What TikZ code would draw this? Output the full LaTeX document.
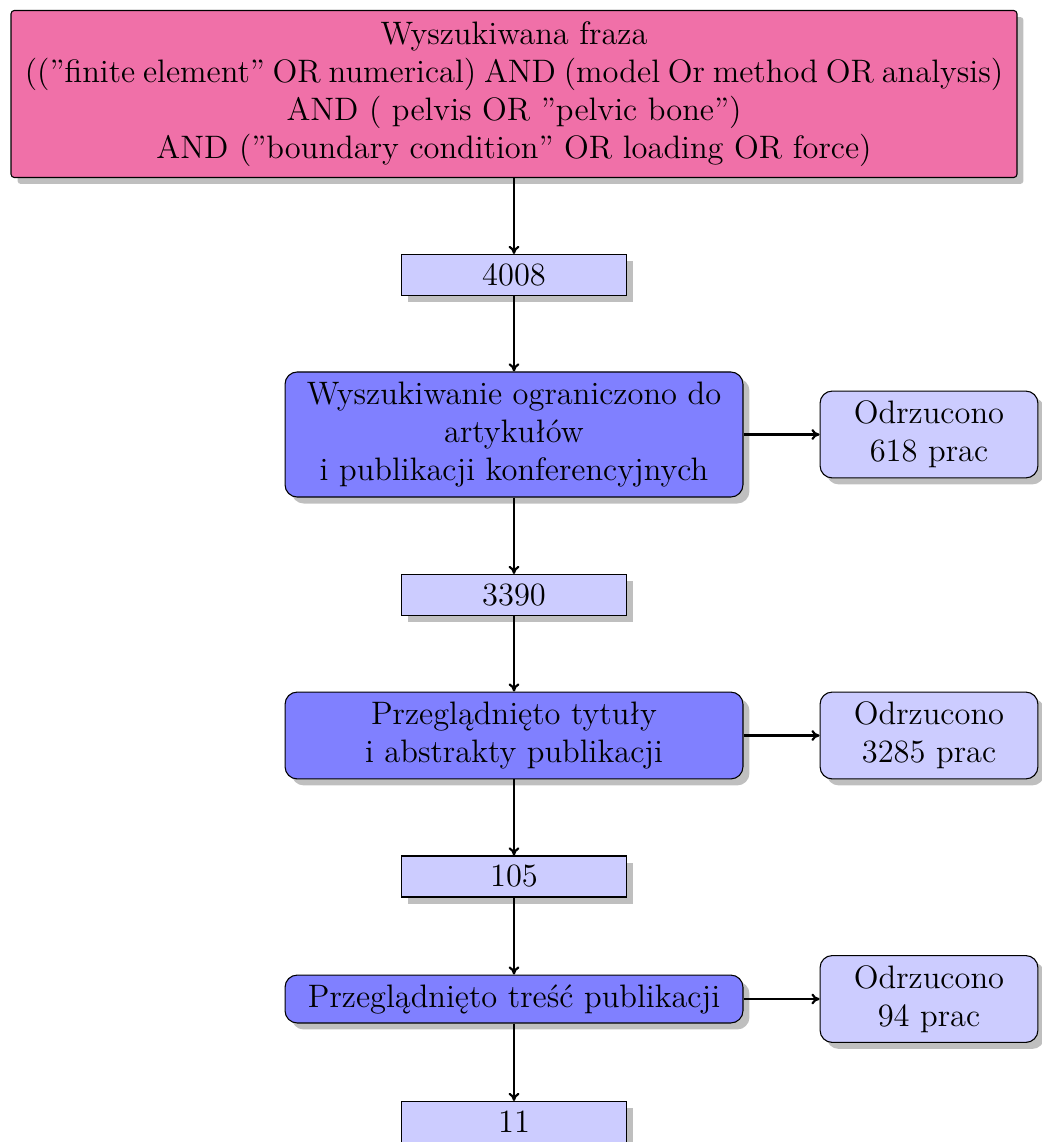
\documentclass[tikz,border=0pt]{standalone}
\usepackage{fontspec}
\usetikzlibrary{shadows,arrows.meta}
\definecolor{queryPink}{RGB}{240,112,168}
\begin{document}
\begin{tikzpicture}[x=0.3695pt,y=-0.3695pt,
  base/.style={draw=black, font=\large, align=center, inner sep=0pt,
    drop shadow={shadow xshift=2.4pt, shadow yshift=-2.4pt}},
  query/.style={base, fill=queryPink, rounded corners=1.2pt,
    minimum width=371.7pt, minimum height=61.7pt},
  count/.style={base, fill=blue!20, minimum width=83.1pt, minimum height=15.15pt},
  stage/.style={base, fill=blue!50, rounded corners=4.5pt, minimum width=169.2pt},
  reject/.style={base, fill=blue!20, rounded corners=4.5pt,
    minimum width=80.5pt, minimum height=32.1pt},
  flow/.style={thick, -{To[length=3pt,width=4pt]}}]
\useasboundingbox (0,0) rectangle (1041,1142);

% main column
\node[query] (query) at (514,94) {Wyszukiwana fraza\\\makebox[361.5pt][s]{((”finite element” OR numerical) AND (model Or method OR analysis)}\\AND ( pelvis OR ”pelvic bone”)\\AND (”boundary condition” OR loading OR force)};
\node[count] (c1) at (514,275) {4008};
\node[stage, minimum height=46.2pt] (s1) at (514,434.5) {Wyszukiwanie ograniczono do\\artykułów\\i publikacji konferencyjnych};
\node[count] (c2) at (514,595) {3390};
\node[stage, minimum height=32.1pt] (s2) at (514,735.5) {Przeglądnięto tytuły\\i abstrakty publikacji};
\node[count] (c3) at (514,876.5) {105};
\node[stage, minimum height=17.7pt] (s3) at (514,999) {Przeglądnięto treść publikacji};
\node[count] (c4) at (514,1122) {11};

% rejected records
\node[reject] (r1) at (929,434.5) {Odrzucono\\618 prac};
\node[reject] (r2) at (929,735.5) {Odrzucono\\3285 prac};
\node[reject] (r3) at (929,999) {Odrzucono\\94 prac};

% connectors
\draw[flow] (query.south -| c1) -- (c1);
\draw[flow] (c1) -- (s1);
\draw[flow] (s1) -- (c2);
\draw[flow] (c2) -- (s2);
\draw[flow] (s2) -- (c3);
\draw[flow] (c3) -- (s3);
\draw[flow] (s3) -- (c4);
\draw[flow] (s1) -- (r1);
\draw[flow] (s2) -- (r2);
\draw[flow] (s3) -- (r3);
\end{tikzpicture}
\end{document}
